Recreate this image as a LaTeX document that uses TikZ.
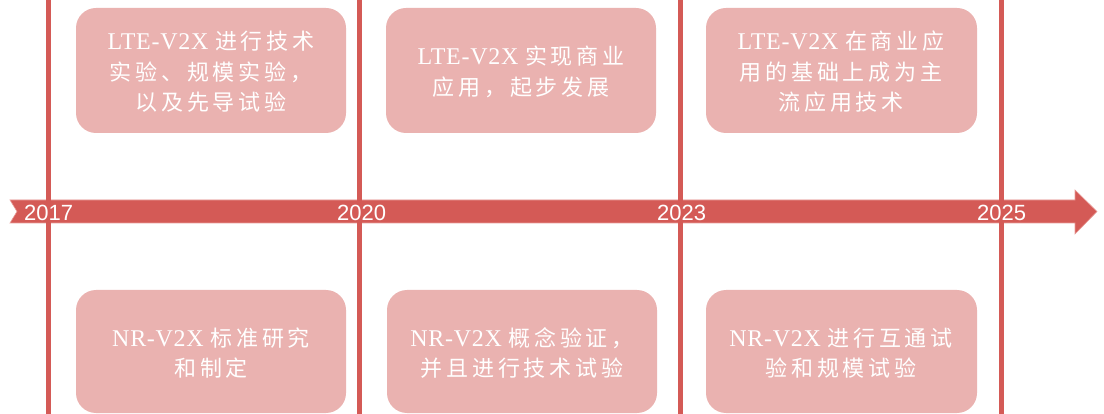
\documentclass[tikz,border=0pt]{standalone}
\usepackage{fontspec}
\setmainfont[LetterSpace=3]{Liberation Serif}
\newfontfamily\cjk[LetterSpace=17]{Noto Sans CJK SC}
\newfontfamily\yrfont{Liberation Sans}
\newcommand\zh[1]{{\cjk\fontsize{22}{30.5}\selectfont #1}}
\definecolor{tlred}{HTML}{D45A56}
\definecolor{boxpink}{HTML}{EAB2B0}
\definecolor{bandedge}{HTML}{E89C98}
\tikzset{
  event/.style={text=white, align=center,
    font=\fontsize{24}{30.5}\selectfont, inner sep=0pt},
  eventbox/.style={fill=boxpink, rounded corners=20pt},
  yearlabel/.style={text=white, font=\yrfont\fontsize{22}{22}\selectfont, anchor=base west, inner sep=0pt},
  tick/.style={draw=tlred, line width=5pt}
}
\begin{document}
\begin{tikzpicture}[x=1pt,y=-1pt]
\useasboundingbox (0,0) rectangle (1104,414);
% vertical lines
\foreach \n/\x in {a/48,b/359,c/680,d/1001}{
  \coordinate (\n top) at (\x,0);
  \coordinate (\n bot) at (\x,414);
  \draw[tick] (\n top) -- (\n bot);
}
% band arrow
\fill[tlred, draw=bandedge, line width=0.6pt] (10,200) -- (1075,200) -- (1075,190) -- (1097,211.5) -- (1075,234) -- (1075,223) -- (10,223) -- (17,211.5) -- cycle;
\foreach \n/\x in {a/48,b/359,c/680,d/1001}{
  \draw[tlred, line width=5pt] (\x,199) -- (\x,224);
}
% years
\node[yearlabel] (y2017) at (24,221) {2017};
\node[yearlabel] (y2020) at (337,221) {2020};
\node[yearlabel] (y2023) at (657,221) {2023};
\node[yearlabel] (y2025) at (977,221) {2025};
% boxes
\fill[eventbox] (76,8) rectangle (346,133);
\fill[eventbox] (386,8) rectangle (656,133);
\fill[eventbox] (706,8) rectangle (977,133);
\fill[eventbox] (76,290) rectangle (346,413);
\fill[eventbox] (387,290) rectangle (657,413);
\fill[eventbox] (706,290) rectangle (977,413);
\node[event] (t1) at (211,72) {LTE-V2X \zh{进行技术}\\\zh{实验、规模实验，}\\\zh{以及先导试验}};
\node[event] (t2) at (521,72) {LTE-V2X \zh{实现商业}\\\zh{应用，起步发展}};
\node[event] (t3) at (841,72) {LTE-V2X \zh{在商业应}\\\zh{用的基础上成为主}\\\zh{流应用技术}};
\node[event] (b1) at (211,353) {NR-V2X \zh{标准研究}\\\zh{和制定}};
\node[event] (b2) at (522,353) {NR-V2X \zh{概念验证，}\\\zh{并且进行技术试验}};
\node[event] (b3) at (841,353) {NR-V2X \zh{进行互通试}\\\zh{验和规模试验}};
\end{tikzpicture}
\end{document}
